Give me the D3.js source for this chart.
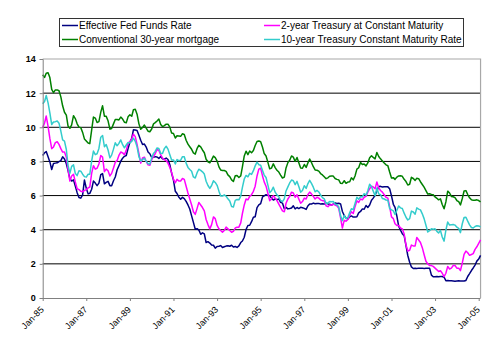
<!DOCTYPE html>
<html>
<head>
<meta charset="utf-8">
<script src="https://cdn.jsdelivr.net/npm/d3@7/dist/d3.min.js"></script>
<style>
  body { margin: 0; background: #fff; }
  svg { display: block; font-family: "Liberation Sans", Arial, sans-serif; }
</style>
</head>
<body>
<svg id="chart" width="500" height="348"></svg>
<script>
// Monthly rates (%), January 1985 through February 2005
const fedFunds = [
  8.35, 8.50, 8.58, 8.27, 7.97, 7.53, 7.88, 7.90, 7.92, 7.99, 8.05, 8.27,
  8.14, 7.86, 7.48, 6.99, 6.85, 6.92, 6.56, 6.17, 5.89, 5.85, 6.04, 6.91,
  6.43, 6.10, 6.13, 6.37, 6.85, 6.73, 6.58, 6.73, 7.22, 7.29, 6.69, 6.77,
  6.83, 6.58, 6.58, 6.87, 7.09, 7.51, 7.75, 8.01, 8.19, 8.30, 8.35, 8.76,
  9.12, 9.36, 9.85, 9.84, 9.81, 9.53, 9.24, 8.99, 9.02, 8.84, 8.55, 8.45,
  8.23, 8.24, 8.28, 8.26, 8.18, 8.29, 8.15, 8.13, 8.20, 8.11, 7.81, 7.31,
  6.91, 6.25, 6.12, 5.91, 5.78, 5.90, 5.82, 5.66, 5.45, 5.21, 4.81, 4.43,
  4.03, 4.06, 3.98, 3.73, 3.82, 3.76, 3.25, 3.30, 3.22, 3.10, 3.09, 2.92,
  3.02, 3.03, 3.07, 2.96, 3.00, 3.04, 3.06, 3.03, 3.09, 2.99, 3.02, 2.96,
  3.05, 3.25, 3.34, 3.56, 4.01, 4.25, 4.26, 4.47, 4.73, 4.76, 5.29, 5.45,
  5.53, 5.92, 5.98, 6.05, 6.01, 6.00, 5.85, 5.74, 5.80, 5.76, 5.80, 5.60,
  5.56, 5.22, 5.31, 5.22, 5.24, 5.27, 5.40, 5.22, 5.30, 5.24, 5.31, 5.29,
  5.25, 5.19, 5.39, 5.51, 5.50, 5.56, 5.52, 5.54, 5.54, 5.50, 5.52, 5.50,
  5.56, 5.51, 5.49, 5.45, 5.49, 5.56, 5.54, 5.55, 5.51, 5.07, 4.83, 4.68,
  4.63, 4.76, 4.81, 4.74, 4.74, 4.76, 4.99, 5.07, 5.22, 5.20, 5.42, 5.30,
  5.45, 5.73, 5.85, 6.02, 6.27, 6.53, 6.54, 6.50, 6.52, 6.51, 6.51, 6.40,
  5.98, 5.49, 5.31, 4.80, 4.21, 3.97, 3.77, 3.65, 3.07, 2.49, 2.09, 1.82,
  1.73, 1.74, 1.73, 1.75, 1.75, 1.75, 1.73, 1.74, 1.75, 1.75, 1.34, 1.24,
  1.24, 1.26, 1.25, 1.26, 1.26, 1.22, 1.01, 1.03, 1.01, 1.01, 1.00, 0.98,
  1.00, 1.01, 1.00, 1.00, 1.00, 1.03, 1.26, 1.43, 1.61, 1.76, 1.93, 2.16,
  2.28, 2.50
];
const twoYear = [
  9.98, 10.25, 10.66, 10.05, 9.35, 8.75, 8.85, 9.10, 9.15, 9.00, 8.75, 8.55,
  8.55, 8.25, 7.55, 6.85, 7.15, 7.25, 6.80, 6.40, 6.35, 6.25, 6.22, 6.30,
  6.35, 6.45, 6.50, 7.30, 7.75, 7.55, 7.60, 7.85, 8.35, 8.25, 7.40, 7.55,
  7.45, 7.15, 7.30, 7.62, 7.95, 8.05, 8.35, 8.55, 8.50, 8.40, 8.65, 9.05,
  9.16, 9.32, 9.60, 9.45, 9.00, 8.45, 7.90, 8.20, 8.25, 8.00, 7.80, 7.78,
  8.10, 8.30, 8.45, 8.70, 8.65, 8.40, 8.20, 8.10, 8.05, 7.90, 7.65, 7.35,
  6.95, 6.75, 6.95, 6.85, 6.85, 7.00, 6.95, 6.55, 6.15, 5.80, 5.45, 5.05,
  4.90, 5.25, 5.60, 5.45, 5.30, 5.10, 4.60, 4.30, 4.05, 4.30, 4.75, 4.65,
  4.25, 4.05, 3.95, 3.85, 3.95, 4.15, 4.05, 3.95, 3.85, 3.90, 4.10, 4.15,
  4.15, 4.40, 4.95, 5.45, 5.80, 5.75, 5.95, 6.05, 6.25, 6.55, 7.15, 7.55,
  7.60, 7.15, 6.80, 6.55, 6.15, 5.70, 5.80, 6.00, 5.85, 5.70, 5.50, 5.30,
  5.10, 5.05, 5.55, 5.80, 5.95, 6.20, 6.15, 5.90, 6.05, 5.80, 5.55, 5.65,
  5.85, 5.80, 6.05, 6.20, 6.10, 5.95, 5.80, 5.90, 5.85, 5.75, 5.70, 5.70,
  5.40, 5.35, 5.45, 5.45, 5.50, 5.45, 5.40, 5.25, 4.70, 4.10, 4.55, 4.50,
  4.60, 4.85, 5.05, 4.95, 5.35, 5.70, 5.60, 5.80, 5.75, 5.90, 5.95, 6.20,
  6.40, 6.55, 6.50, 6.40, 6.80, 6.45, 6.30, 6.20, 6.05, 5.90, 5.85, 5.35,
  4.75, 4.65, 4.35, 4.25, 4.25, 4.10, 4.05, 3.75, 3.10, 2.75, 2.80, 3.10,
  3.05, 3.05, 3.55, 3.40, 3.25, 2.95, 2.55, 2.15, 2.00, 1.90, 1.90, 1.85,
  1.75, 1.65, 1.55, 1.60, 1.45, 1.25, 1.45, 1.85, 1.70, 1.75, 1.90, 1.90,
  1.75, 1.75, 1.60, 2.05, 2.55, 2.75, 2.65, 2.50, 2.55, 2.60, 2.85, 3.00,
  3.20, 3.40
];
const mortgage30 = [
  13.08, 12.92, 13.17, 13.20, 12.91, 12.22, 12.03, 12.19, 12.19, 12.14, 11.78, 11.26,
  10.88, 10.71, 10.08, 9.94, 10.14, 10.68, 10.51, 10.20, 10.01, 9.98, 9.70, 9.32,
  9.20, 9.08, 9.04, 9.83, 10.60, 10.54, 10.28, 10.33, 10.89, 11.26, 10.65, 10.64,
  10.38, 9.89, 9.93, 10.20, 10.46, 10.46, 10.43, 10.60, 10.48, 10.30, 10.27, 10.61,
  10.73, 10.65, 11.03, 11.05, 10.77, 10.20, 9.88, 9.99, 10.13, 9.95, 9.77, 9.74,
  9.90, 10.20, 10.27, 10.37, 10.48, 10.16, 10.04, 10.10, 10.18, 10.18, 10.01, 9.67,
  9.64, 9.37, 9.50, 9.49, 9.47, 9.62, 9.58, 9.24, 9.01, 8.86, 8.71, 8.50,
  8.43, 8.76, 8.94, 8.85, 8.67, 8.51, 8.13, 7.98, 7.92, 8.09, 8.31, 8.22,
  8.02, 7.68, 7.50, 7.47, 7.47, 7.42, 7.21, 7.11, 6.92, 6.83, 7.16, 7.17,
  7.06, 7.15, 7.68, 8.32, 8.60, 8.40, 8.61, 8.51, 8.64, 8.93, 9.17, 9.20,
  9.15, 8.83, 8.46, 8.32, 7.96, 7.57, 7.61, 7.86, 7.64, 7.48, 7.38, 7.20,
  7.03, 7.08, 7.62, 7.93, 8.07, 8.32, 8.25, 8.00, 8.23, 7.92, 7.62, 7.60,
  7.82, 7.65, 7.90, 8.14, 7.94, 7.69, 7.50, 7.48, 7.43, 7.29, 7.21, 7.10,
  6.99, 7.04, 7.13, 7.14, 7.14, 7.00, 6.95, 6.92, 6.72, 6.71, 6.87, 6.72,
  6.79, 6.81, 7.04, 6.92, 7.15, 7.55, 7.63, 7.94, 7.82, 7.85, 7.74, 7.91,
  8.21, 8.33, 8.24, 8.15, 8.52, 8.29, 8.15, 8.03, 7.91, 7.80, 7.75, 7.38,
  7.03, 7.05, 6.95, 7.08, 7.15, 7.16, 7.13, 6.95, 6.82, 6.62, 6.66, 7.07,
  7.00, 6.89, 7.01, 6.99, 6.81, 6.65, 6.49, 6.29, 6.09, 6.11, 6.07, 6.05,
  5.92, 5.84, 5.75, 5.81, 5.48, 5.23, 5.63, 6.26, 6.15, 5.95, 5.93, 5.88,
  5.71, 5.64, 5.45, 5.83, 6.27, 6.29, 6.06, 5.87, 5.75, 5.72, 5.73, 5.75,
  5.71, 5.63
];
const tenYear = [
  11.38, 11.51, 11.86, 11.43, 10.85, 10.16, 10.31, 10.33, 10.37, 10.24, 9.78, 9.26,
  9.19, 8.70, 7.78, 7.30, 7.71, 7.80, 7.30, 7.17, 7.45, 7.43, 7.25, 7.11,
  7.08, 7.25, 7.25, 8.02, 8.61, 8.40, 8.45, 8.76, 9.42, 9.52, 8.86, 8.99,
  8.67, 8.21, 8.37, 8.72, 9.09, 8.92, 9.06, 9.26, 8.98, 8.80, 8.96, 9.11,
  9.09, 9.17, 9.36, 9.18, 8.86, 8.28, 8.02, 8.11, 8.19, 8.01, 7.87, 7.84,
  8.21, 8.47, 8.59, 8.79, 8.76, 8.48, 8.47, 8.75, 8.89, 8.72, 8.39, 8.08,
  8.09, 7.85, 8.11, 8.04, 8.07, 8.28, 8.27, 7.90, 7.65, 7.53, 7.42, 7.09,
  7.03, 7.34, 7.54, 7.48, 7.39, 7.26, 6.84, 6.59, 6.42, 6.59, 6.87, 6.77,
  6.60, 6.26, 5.98, 5.97, 6.04, 5.96, 5.81, 5.68, 5.36, 5.33, 5.72, 5.77,
  5.75, 5.97, 6.48, 6.97, 7.18, 7.10, 7.30, 7.24, 7.46, 7.74, 7.96, 7.81,
  7.78, 7.47, 7.20, 7.06, 6.63, 6.17, 6.28, 6.49, 6.20, 6.04, 5.93, 5.71,
  5.65, 5.81, 6.27, 6.51, 6.74, 6.91, 6.87, 6.64, 6.83, 6.53, 6.20, 6.30,
  6.58, 6.42, 6.69, 6.89, 6.71, 6.49, 6.22, 6.30, 6.21, 6.03, 5.88, 5.81,
  5.54, 5.57, 5.65, 5.64, 5.65, 5.50, 5.46, 5.34, 4.81, 4.53, 4.83, 4.65,
  4.72, 5.00, 5.23, 5.18, 5.54, 5.90, 5.79, 5.94, 5.92, 6.11, 6.03, 6.28,
  6.66, 6.52, 6.26, 5.99, 6.44, 6.10, 6.05, 5.83, 5.80, 5.74, 5.72, 5.24,
  5.16, 5.10, 4.89, 5.14, 5.39, 5.28, 5.24, 4.97, 4.73, 4.57, 4.65, 5.09,
  5.04, 4.91, 5.28, 5.21, 5.16, 4.93, 4.65, 4.26, 3.87, 3.94, 4.05, 4.03,
  4.05, 3.90, 3.81, 3.96, 3.57, 3.33, 3.98, 4.45, 4.27, 4.29, 4.30, 4.27,
  4.15, 4.08, 3.83, 4.35, 4.72, 4.73, 4.50, 4.28, 4.13, 4.10, 4.19, 4.23,
  4.22, 4.17
];

const seriesNames = [
  "Effective Fed Funds Rate",
  "2-year Treasury at Constant Maturity",
  "Conventional 30-year mortgage",
  "10-year Treasury Constant Maturity Rate"
];
const seriesColors = ["#000080", "#ff00ff", "#008000", "#33cccc"];
const yTickValues = [0, 2, 4, 6, 8, 10, 12, 14];
const xTickLabels = ["Jan-85", "Jan-87", "Jan-89", "Jan-91", "Jan-93", "Jan-95",
                     "Jan-97", "Jan-99", "Jan-01", "Jan-03", "Jan-05"];

const months = fedFunds.map((_, i) => new Date(1985, i, 1));
const xTickDates = xTickLabels.map((_, i) => new Date(1985 + 2 * i, 0, 1));

const svg = d3.select("#chart");

const x = d3.scaleTime()
  .domain([new Date(1985, 0, 1), new Date(2005, 0, 1)])
  .range([42.7, 478.7]);
const y = d3.scaleLinear().domain([0, 14]).range([298, 59]);

const left = x(months[0]);
const right = x(months[months.length - 1]);

// horizontal gridlines
svg.append("g")
  .selectAll("line")
  .data(yTickValues.filter(v => v > 0 && v < 14))
  .join("line")
  .attr("x1", left).attr("x2", right)
  .attr("y1", d => y(d)).attr("y2", d => y(d))
  .attr("stroke", "#000").attr("stroke-width", 1);

// plot-area frame (top and right)
svg.append("path")
  .attr("d", `M${left},${y(14)}H${right}V${y(0)}`)
  .attr("fill", "none").attr("stroke", "#a8a8a8").attr("stroke-width", 1.2);

// series lines
const series = [fedFunds, twoYear, mortgage30, tenYear];
const line = d3.line()
  .x((d, i) => x(months[i]))
  .y(d => y(d));

svg.append("g")
  .selectAll("path")
  .data(series)
  .join("path")
  .attr("d", d => line(d))
  .attr("fill", "none")
  .attr("stroke", (d, i) => seriesColors[i])
  .attr("stroke-width", 1.5)
  .attr("stroke-linejoin", "round");

// y axis
const yAxis = svg.append("g").attr("transform", `translate(${left},0)`)
  .call(d3.axisLeft(y).tickValues(yTickValues).tickSize(3).tickPadding(4).tickFormat(d3.format("d")));
yAxis.select(".domain").attr("stroke", "#808080");
yAxis.selectAll(".tick line").attr("stroke", "#808080");
yAxis.selectAll("text")
  .attr("font-size", 9).attr("font-weight", "bold")
  .attr("font-family", "'Liberation Sans', Arial, sans-serif")
  .attr("fill", "#000");

// x axis
const xAxis = svg.append("g").attr("transform", `translate(0,${y(0)})`)
  .call(d3.axisBottom(x).tickValues(xTickDates).tickSize(3)
    .tickFormat((d, i) => xTickLabels[i]).tickSizeOuter(0));
xAxis.select(".domain").attr("stroke", "#808080").attr("d", `M${left},0.5H${right}`);
xAxis.selectAll(".tick line").attr("stroke", "#808080");
xAxis.selectAll("text")
  .attr("font-size", 9)
  .attr("font-family", "'Liberation Sans', Arial, sans-serif")
  .attr("fill", "#000")
  .attr("text-anchor", "end")
  .attr("y", 0).attr("dy", "0.35em")
  .attr("transform", "translate(-1,10) rotate(-45)");

// legend
const legend = svg.append("g");
legend.append("rect")
  .attr("x", 59.5).attr("y", 18.5).attr("width", 404).attr("height", 28)
  .attr("fill", "#fff").attr("stroke", "#333").attr("stroke-width", 1);

const legendPos = [
  { x: 62, y: 25.5 },
  { x: 264, y: 25.5 },
  { x: 62, y: 39.5 },
  { x: 264, y: 39.5 }
];
seriesNames.forEach((name, i) => {
  const p = legendPos[i];
  legend.append("line")
    .attr("x1", p.x).attr("x2", p.x + 16)
    .attr("y1", p.y).attr("y2", p.y)
    .attr("stroke", seriesColors[i]).attr("stroke-width", 1.5);
  legend.append("text")
    .attr("x", p.x + 17).attr("y", p.y).attr("dy", "0.35em")
    .attr("font-size", 10).attr("fill", "#000")
    .text(name);
});
</script>
</body>
</html>
